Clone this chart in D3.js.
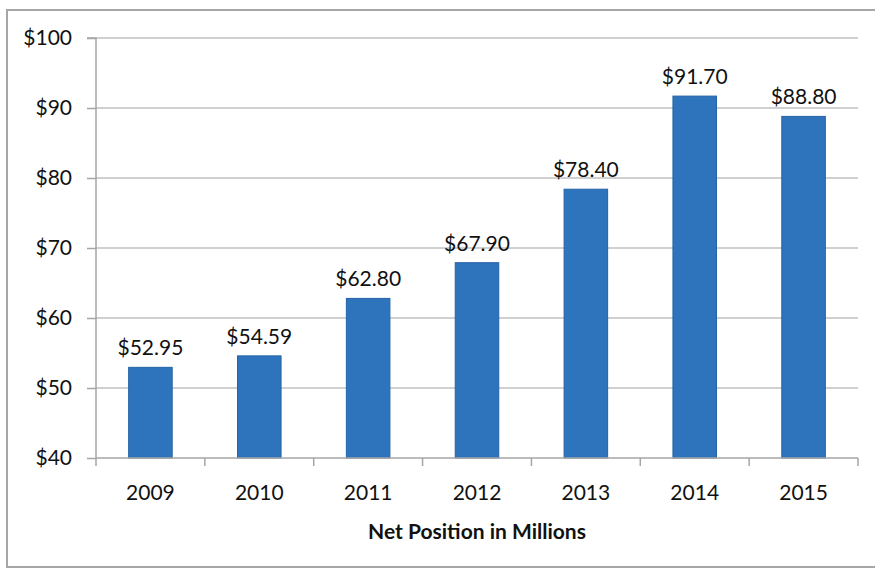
<!DOCTYPE html>
<html><head><meta charset="utf-8">
<script src="https://cdn.jsdelivr.net/npm/d3@7"></script>
<style>body{margin:0;background:#fff}svg{display:block}</style>
</head><body>
<script>
const years = ["2009","2010","2011","2012","2013","2014","2015"];
const values = [52.95, 54.59, 62.80, 67.90, 78.40, 91.70, 88.80];
const valueLabels = ["$52.95","$54.59","$62.80","$67.90","$78.40","$91.70","$88.80"];
const yTicks = [40,50,60,70,80,90,100];
const xTitle = "Net Position in Millions";

(function(){
const W = 875, H = 569;
const svg = d3.select("body").append("svg").attr("width", W).attr("height", H);
const font = "Lato, 'Open Sans', sans-serif";

// outer border
svg.append("rect").attr("x",7).attr("y",10).attr("width",W+10).attr("height",557)
  .attr("fill","none").attr("stroke","#a6a6a6").attr("stroke-width",2);

const pL = 96, pR = 858, pT = 38, pB = 458;
const x = d3.scaleBand().domain(years).range([pL, pR]).paddingInner(0.6).paddingOuter(0.3);
const y = d3.scaleLinear().domain([40,100]).range([pB, pT]);

// gridlines
svg.append("g").selectAll("line").data(yTicks.filter(d=>d>40)).join("line")
  .attr("x1",pL).attr("x2",pR).attr("y1",d=>y(d)).attr("y2",d=>y(d))
  .attr("stroke","#c0c0c0").attr("stroke-width",1.5);

// y axis
const yAxis = svg.append("g").attr("transform",`translate(${pL},0)`)
  .call(d3.axisLeft(y).tickValues(yTicks).tickSize(9).tickPadding(15).tickFormat(d=>"$"+d));
yAxis.select(".domain").attr("stroke","#a6a6a6").attr("stroke-width",1.5).attr("d",`M-9,${pT}H0V${pB}`);
yAxis.selectAll(".tick line").attr("stroke","#a6a6a6").attr("stroke-width",1.5);
yAxis.selectAll("text").attr("font-family",font).attr("font-size",21).attr("fill","#111");

// bars
svg.append("g").selectAll("rect").data(values).join("rect")
  .attr("x",(d,i)=>x(years[i])).attr("width",x.bandwidth())
  .attr("y",d=>y(d)).attr("height",d=>pB-y(d))
  .attr("fill","#2e74bd").attr("stroke","#2563a6").attr("stroke-width",1);

// x axis
const xAxisG = svg.append("g").attr("transform",`translate(0,${pB})`);
xAxisG.append("line").attr("x1",pL).attr("x2",pR).attr("stroke","#a6a6a6").attr("stroke-width",1.5);
const bounds = d3.range(years.length+1).map(i=>pL + i*(pR-pL)/years.length);
xAxisG.selectAll("line.tk").data(bounds).join("line").attr("class","tk")
  .attr("x1",d=>d).attr("x2",d=>d).attr("y1",0).attr("y2",8)
  .attr("stroke","#a6a6a6").attr("stroke-width",1.5);
xAxisG.selectAll("text").data(years).join("text")
  .attr("x",d=>x(d)+x.bandwidth()/2).attr("y",42)
  .attr("text-anchor","middle").attr("font-family",font).attr("font-size",21).attr("fill","#111")
  .text(d=>d);

// value labels
svg.append("g").selectAll("text").data(values).join("text")
  .attr("x",(d,i)=>x(years[i])+x.bandwidth()/2).attr("y",d=>y(d)-12)
  .attr("text-anchor","middle").attr("font-family",font).attr("font-size",21).attr("fill","#111")
  .text((d,i)=>valueLabels[i]);

// x title
svg.append("text").attr("x",477).attr("y",539).attr("text-anchor","middle")
  .attr("font-family",font).attr("font-size",21).attr("font-weight","bold").attr("fill","#111")
  .text(xTitle);
})();
</script>
</body></html>
